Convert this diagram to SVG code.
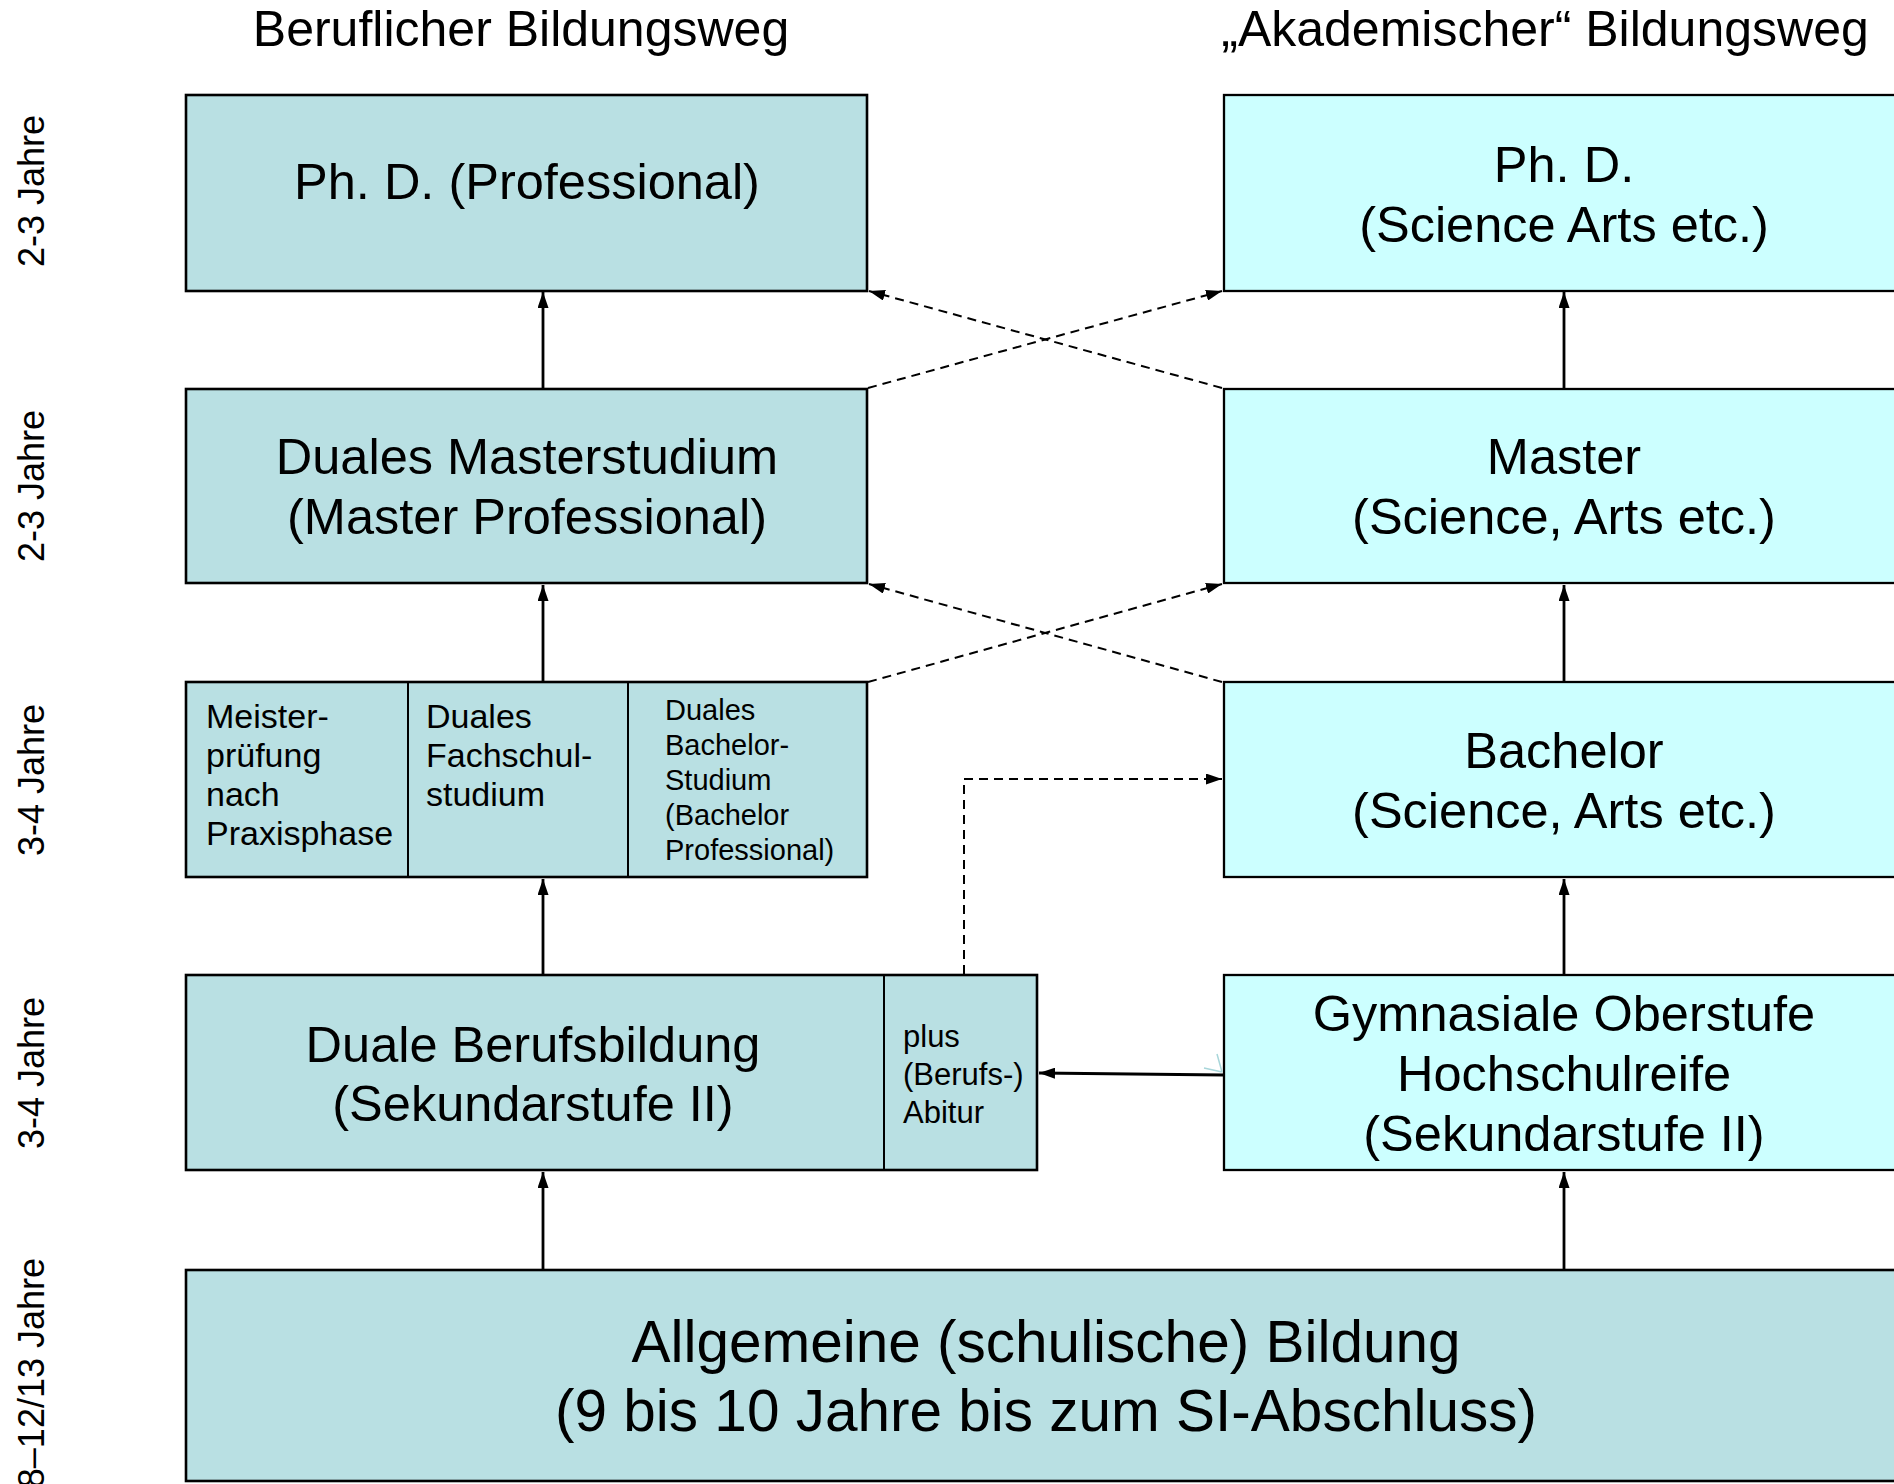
<svg xmlns="http://www.w3.org/2000/svg" width="1894" height="1484" viewBox="0 0 1894 1484">
<defs>
<style>
text{font-family:"Liberation Sans",Arial,sans-serif;fill:#000}
.t{font-size:50px;text-anchor:middle}
.n{font-size:50.5px;text-anchor:middle}
.big{font-size:58.5px;text-anchor:middle}
.yr{font-size:36px;text-anchor:middle}
.c1{font-size:34px}
.c3{font-size:29px}
.pl{font-size:31px}
.bl{fill:#B9E0E3;stroke:#000;stroke-width:2.6}
.br{fill:#CCFFFF;stroke:#000;stroke-width:2.3}
.div{stroke:#000;stroke-width:2}
.sol{stroke:#000;stroke-width:2.8;fill:none;marker-end:url(#ah)}
.dsh{stroke:#000;stroke-width:2;fill:none;stroke-dasharray:9 6;marker-end:url(#ah)}
</style>
<marker id="ah" viewBox="0 0 16 11" refX="16" refY="5.5" markerWidth="16" markerHeight="11" markerUnits="userSpaceOnUse" orient="auto"><path d="M0,0 L16,5.5 L0,11 z" fill="#000"/></marker>
</defs>
<rect width="1894" height="1484" fill="#fff"/>

<g id="titles">
<text class="t" x="521" y="46">Beruflicher Bildungsweg</text>
<text class="t" x="1545" y="46">„Akademischer“ Bildungsweg</text>
</g>

<g id="years">
<text class="yr" transform="translate(44,191) rotate(-90)">2-3 Jahre</text>
<text class="yr" transform="translate(44,486) rotate(-90)">2-3 Jahre</text>
<text class="yr" transform="translate(44,780) rotate(-90)">3-4 Jahre</text>
<text class="yr" transform="translate(44,1073) rotate(-90)">3-4 Jahre</text>
<text class="yr" transform="translate(44,1258) rotate(-90)" style="text-anchor:end">8–12/13 Jahre</text>
</g>

<g id="phd-prof">
<rect class="bl" x="186" y="95" width="681" height="196"/>
<text class="n" x="527" y="199">Ph. D. (Professional)</text>
</g>
<g id="phd-sci">
<rect class="br" x="1224" y="95" width="700" height="196"/>
<text class="n" x="1564" y="182">Ph. D.</text>
<text class="n" x="1564" y="242">(Science Arts etc.)</text>
</g>
<g id="master-prof">
<rect class="bl" x="186" y="389" width="681" height="194"/>
<text class="n" x="527" y="474">Duales Masterstudium</text>
<text class="n" x="527" y="534">(Master Professional)</text>
</g>
<g id="master-sci">
<rect class="br" x="1224" y="389" width="700" height="194"/>
<text class="n" x="1564" y="474">Master</text>
<text class="n" x="1564" y="534">(Science, Arts etc.)</text>
</g>
<g id="bachelor-prof">
<rect class="bl" x="186" y="682" width="681" height="195"/>
<line class="div" x1="408" y1="682" x2="408" y2="877"/>
<line class="div" x1="628" y1="682" x2="628" y2="877"/>
<text class="c1"><tspan x="206" y="728">Meister-</tspan><tspan x="206" y="767">prüfung</tspan><tspan x="206" y="806">nach</tspan><tspan x="206" y="845">Praxisphase</tspan></text>
<text class="c1"><tspan x="426" y="728">Duales</tspan><tspan x="426" y="767">Fachschul-</tspan><tspan x="426" y="806">studium</tspan></text>
<text class="c3"><tspan x="665" y="720">Duales</tspan><tspan x="665" y="755">Bachelor-</tspan><tspan x="665" y="790">Studium</tspan><tspan x="665" y="825">(Bachelor</tspan><tspan x="665" y="860">Professional)</tspan></text>
</g>
<g id="bachelor-sci">
<rect class="br" x="1224" y="682" width="700" height="195"/>
<text class="n" x="1564" y="768">Bachelor</text>
<text class="n" x="1564" y="828">(Science, Arts etc.)</text>
</g>
<g id="berufsbildung">
<rect class="bl" x="186" y="975" width="851" height="195"/>
<line class="div" x1="884" y1="975" x2="884" y2="1170"/>
<text class="n" x="533" y="1062">Duale Berufsbildung</text>
<text class="n" x="533" y="1121">(Sekundarstufe II)</text>
<text class="pl"><tspan x="903" y="1047">plus</tspan><tspan x="903" y="1085">(Berufs-)</tspan><tspan x="903" y="1123">Abitur</tspan></text>
</g>
<g id="gymnasium">
<rect class="br" x="1224" y="975" width="700" height="195"/>
<text class="n" x="1564" y="1031">Gymnasiale Oberstufe</text>
<text class="n" x="1564" y="1091">Hochschulreife</text>
<text class="n" x="1564" y="1151">(Sekundarstufe II)</text>
</g>
<g id="allgemein">
<rect class="bl" x="186" y="1270" width="1740" height="211"/>
<text class="big" x="1046" y="1362">Allgemeine (schulische) Bildung</text>
<text class="big" x="1046" y="1431">(9 bis 10 Jahre bis zum SI-Abschluss)</text>
</g>

<g id="connectors">
<line class="sol" x1="543" y1="388" x2="543" y2="292"/>
<line class="sol" x1="543" y1="681" x2="543" y2="585"/>
<line class="sol" x1="543" y1="974" x2="543" y2="879"/>
<line class="sol" x1="543" y1="1269" x2="543" y2="1172"/>
<line class="sol" x1="1564" y1="388" x2="1564" y2="292"/>
<line class="sol" x1="1564" y1="681" x2="1564" y2="585"/>
<line class="sol" x1="1564" y1="974" x2="1564" y2="879"/>
<line class="sol" x1="1564" y1="1269" x2="1564" y2="1172"/>
<line class="dsh" x1="1222" y1="388" x2="869" y2="291"/>
<line class="dsh" x1="868" y1="388" x2="1222" y2="291"/>
<line class="dsh" x1="1222" y1="682" x2="869" y2="584"/>
<line class="dsh" x1="868" y1="682" x2="1222" y2="584"/>
<path class="dsh" d="M964,974 L964,779 L1222,779"/>
<line class="sol" x1="1224" y1="1075" x2="1039" y2="1073"/>
<path d="M1204,1068 L1222,1072 M1217,1054 L1222,1072" stroke="#A8D6DA" stroke-width="1.5" fill="none"/>
</g>
</svg>
